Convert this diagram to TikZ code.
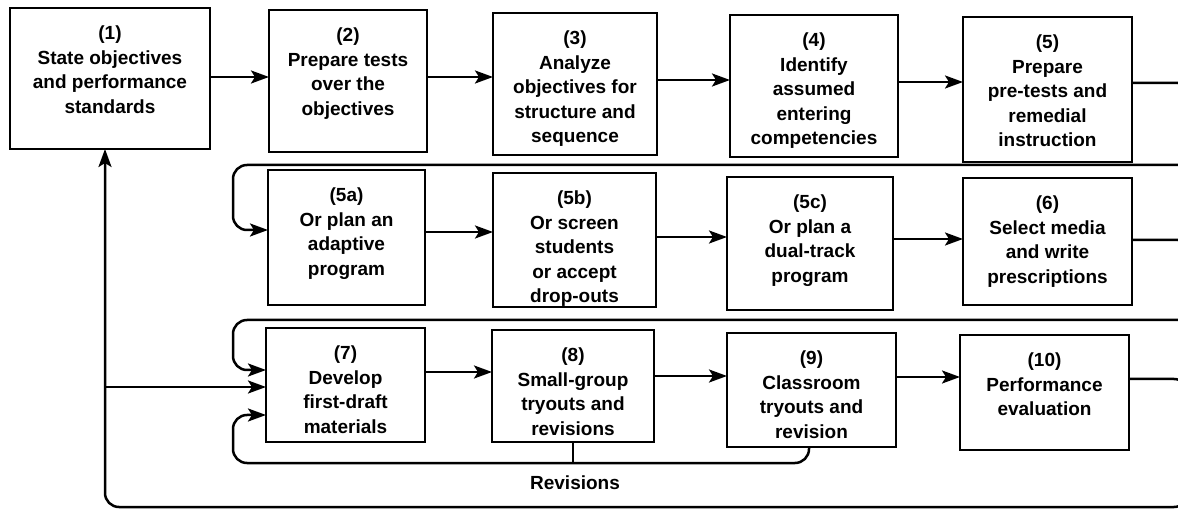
\documentclass[tikz,border=0pt]{standalone}
\usepackage{fontspec}
\setmainfont{Liberation Sans}
\usetikzlibrary{arrows.meta,fit}

\begin{document}
\begin{tikzpicture}[x=1pt,y=-1pt,
  box/.style={draw, line width=2.6pt, inner sep=0pt, outer sep=0pt},
  txt/.style={anchor=north, inner sep=0pt, align=center,
    font=\fontsize{19}{24.5}\selectfont\bfseries},
  flow/.style={line width=2.5pt, rounded corners=14pt},
  arr/.style={flow, -{Stealth[length=18pt,width=13pt,inset=4pt]}}
]
% canvas
\useasboundingbox (0,0) rectangle (1178,518);
\fill[white] (0,0) rectangle (1178,518);
\clip (0,0) rectangle (1178,518);

% ---- row 1
\node[box, fit={(10,8) (210,149)}]   (b1) {};
\node[box, fit={(269,10) (427,152)}] (b2) {};
\node[box, fit={(493,13) (657,155)}] (b3) {};
\node[box, fit={(730,15) (898,157)}] (b4) {};
\node[box, fit={(963,17) (1132,162)}] (b5) {};
% ---- row 2
\node[box, fit={(268,170) (425,305)}] (b5a) {};
\node[box, fit={(493,173) (656,307)}] (b5b) {};
\node[box, fit={(727,177) (893,310)}] (b5c) {};
\node[box, fit={(963,178) (1132,305)}] (b6) {};
% ---- row 3
\node[box, fit={(266,328) (425,442)}] (b7) {};
\node[box, fit={(492,330) (654,442)}] (b8) {};
\node[box, fit={(727,333) (896,447)}] (b9) {};
\node[box, fit={(960,335) (1129,450)}] (b10) {};

% ---- box texts
\node[txt] (t1)  at ([yshift=-18pt]b1.north)  {(1)\\State objectives\\and performance\\standards};
\node[txt] (t2)  at ([yshift=-18pt]b2.north)  {(2)\\Prepare tests\\over the\\objectives};
\node[txt] (t3)  at ([yshift=-18pt]b3.north)  {(3)\\Analyze\\objectives for\\structure and\\sequence};
\node[txt] (t4)  at ([yshift=-18pt]b4.north)  {(4)\\Identify\\assumed\\entering\\competencies};
\node[txt] (t5)  at ([yshift=-18pt]b5.north)  {(5)\\Prepare\\pre-tests and\\remedial\\instruction};
\node[txt] (t5a) at ([yshift=-18pt]b5a.north) {(5a)\\Or plan an\\adaptive\\program};
\node[txt] (t5b) at ([yshift=-18pt]b5b.north) {(5b)\\Or screen\\students\\or accept\\drop-outs};
\node[txt] (t5c) at ([yshift=-18pt]b5c.north) {(5c)\\Or plan a\\dual-track\\program};
\node[txt] (t6)  at ([yshift=-18pt]b6.north)  {(6)\\Select media\\and write\\prescriptions};
\node[txt] (t7)  at ([yshift=-18pt]b7.north)  {(7)\\Develop\\first-draft\\materials};
\node[txt] (t8)  at ([yshift=-18pt]b8.north)  {(8)\\Small-group\\tryouts and\\revisions};
\node[txt] (t9)  at ([yshift=-18pt]b9.north)  {(9)\\Classroom\\tryouts and\\revision};
\node[txt] (t10) at ([yshift=-18pt]b10.north) {(10)\\Performance\\evaluation};

% ---- row 1 flow
\draw[arr] (b1.east |- 0,77) -- (b2.west |- 0,77);
\draw[arr] (b2.east |- 0,77) -- (b3.west |- 0,77);
\draw[arr] (b3.east |- 0,80) -- (b4.west |- 0,80);
\draw[arr] (b4.east |- 0,82) -- (b5.west |- 0,82);
% row 1 -> row 2
\draw[arr] (b5.east |- 0,83) -- (1192,83) -- (1192,165) -- (233,165)
  -- (233,230) -- (b5a.west |- 0,230);

% ---- row 2 flow
\draw[arr] (b5a.east |- 0,232) -- (b5b.west |- 0,232);
\draw[arr] (b5b.east |- 0,237) -- (b5c.west |- 0,237);
\draw[arr] (b5c.east |- 0,239) -- (b6.west |- 0,239);
% row 2 -> row 3
\draw[arr] (b6.east |- 0,240) -- (1192,240) -- (1192,320) -- (233,320)
  -- (233,370) -- (b7.west |- 0,370);

% ---- row 3 flow
\draw[arr] (b7.east |- 0,372) -- (b8.west |- 0,372);
\draw[arr] (b8.east |- 0,376) -- (b9.west |- 0,376);
\draw[arr] (b9.east |- 0,377) -- (b10.west |- 0,377);

% ---- feedback to (1)
\draw[arr] (b10.east |- 0,379) -- (1188,379) -- (1188,507) -- (105,507)
  -- (b1.south -| 105,0);
\coordinate (jn) at (105,387);
\draw[arr] (jn) -- (b7.west |- jn);

% ---- revision loop
\draw[arr] (b9.south -| 809,0) -- (809,463) -- (233,463) -- (233,415)
  -- (b7.west |- 0,415);
\draw[flow] (b8.south -| 573,0) -- (573,463);
\node[font=\fontsize{19}{24}\selectfont\bfseries, inner sep=0pt] (rev) at (575,483) {Revisions};
\end{tikzpicture}
\end{document}
